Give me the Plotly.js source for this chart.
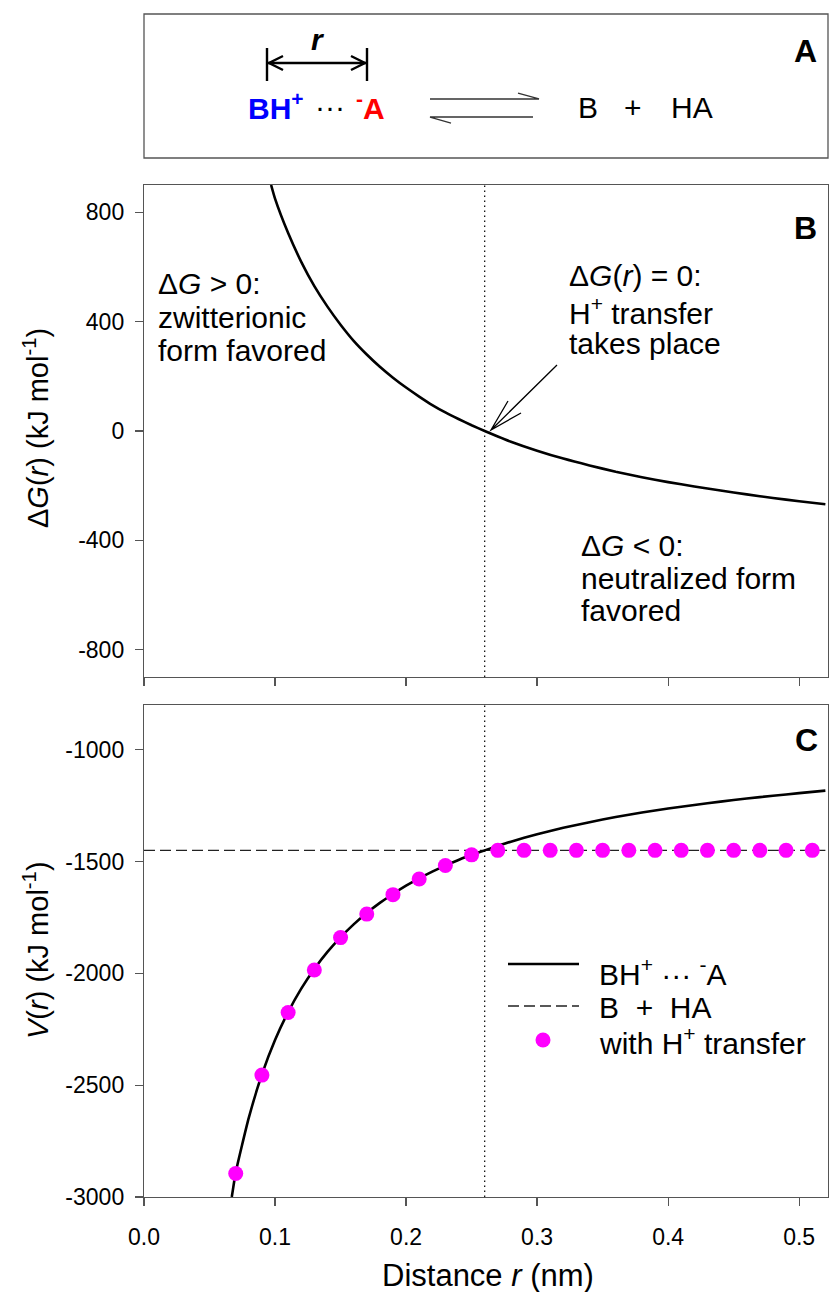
<!DOCTYPE html>
<html>
<head>
<meta charset="utf-8">
<script src="https://cdn.plot.ly/plotly-3.0.1.min.js"></script>
<style>html,body{margin:0;padding:0;background:#fff;}</style>
</head>
<body>
<div id="chart" style="width:829px;height:1292px;"></div>
<script>
// ---------- data ----------
// Panel B: free energy difference ΔG(r)
const rDG = [0.097, 0.10, 0.11, 0.12, 0.13, 0.14, 0.15, 0.16, 0.17, 0.18, 0.19, 0.20, 0.21, 0.22, 0.23, 0.24, 0.25, 0.26,
             0.27, 0.28, 0.30, 0.32, 0.34, 0.36, 0.38, 0.40, 0.42, 0.44, 0.46, 0.48, 0.50, 0.52];
const dG  = [900, 850, 724, 619, 530, 455, 389, 330, 280, 235, 195, 159, 126, 95, 68, 44, 21, 0,
             -20, -39, -72, -101, -126, -149, -169, -187, -203, -218, -232, -245, -257, -268];

// Panel C: potential of the ion pair BH+ ··· -A
const rV = [0.067, 0.07, 0.08, 0.09, 0.10, 0.11, 0.12, 0.13, 0.14, 0.15, 0.16, 0.17, 0.18, 0.19, 0.20,
            0.21, 0.22, 0.23, 0.24, 0.25, 0.26, 0.27, 0.28, 0.30, 0.32, 0.34, 0.36, 0.38, 0.40, 0.42, 0.44,
            0.46, 0.48, 0.50, 0.52];
const V  = [-3000, -2890, -2645, -2452, -2298, -2173, -2068, -1980, -1904, -1839, -1781, -1730, -1685, -1645, -1608,
            -1575, -1545, -1518, -1493, -1470, -1450, -1430, -1411, -1378, -1349, -1324, -1301, -1281, -1263, -1247, -1232,
            -1218, -1206, -1194, -1183];

// Panel C: neutral pair B + HA
const rNeutral = [0, 0.52];
const VNeutral = [-1450, -1450];

// Panel C: with H+ transfer (points)
const rHT = [0.07, 0.09, 0.11, 0.13, 0.15, 0.17, 0.19, 0.21, 0.23, 0.25, 0.27, 0.29, 0.31,
             0.33, 0.35, 0.37, 0.39, 0.41, 0.43, 0.45, 0.47, 0.49, 0.51];
const VHT = [-2895, -2455, -2175, -1985, -1840, -1735, -1648, -1578, -1518, -1470, -1450, -1450, -1450,
             -1450, -1450, -1450, -1450, -1450, -1450, -1450, -1450, -1450, -1450];

const rTransfer = 0.26;

const xTickVals = [0.0, 0.1, 0.2, 0.3, 0.4, 0.5];
const xTickText = ['0.0', '0.1', '0.2', '0.3', '0.4', '0.5'];
const yTicksB = [-800, -400, 0, 400, 800];
const yTickTextB = ['-800', '-400', '0', '400', '800'];
const yTicksC = [-3000, -2500, -2000, -1500, -1000];
const yTickTextC = ['-3000', '-2500', '-2000', '-1500', '-1000'];

// ---------- layout helpers (pixel -> paper) ----------
const FIG_W = 829, FIG_H = 1292;
const L = 144, R = 828, T = 14, B = 1197;
const px = x => (x - L) / (R - L);
const py = y => (B - y) / (B - T);
const FONT = 'Liberation Sans, Arial, Helvetica, sans-serif';
const AX = '#555';
const FS = 30;

function txt(text, x, y, opts) {
  opts = opts || {};
  return Object.assign({
    text: text, xref: 'paper', yref: 'paper', x: px(x), y: py(y),
    xanchor: 'left', yanchor: 'middle', showarrow: false,
    font: {family: FONT, size: FS, color: '#000'}
  }, opts);
}
function seg(x0, y0, x1, y1, w, color, dash) {
  return {type: 'line', xref: 'paper', yref: 'paper', x0: px(x0), y0: py(y0), x1: px(x1), y1: py(y1),
          line: {color: color || '#000', width: w || 1.3, dash: dash || 'solid'}};
}
function path(pts, w, color) {
  let d = '';
  pts.forEach((p, i) => {
    if (p === null) return;
    const prev = pts[i - 1];
    d += ((i === 0 || prev === null) ? 'M ' : 'L ') + px(p[0]).toFixed(5) + ' ' + py(p[1]).toFixed(5) + ' ';
  });
  return {type: 'path', xref: 'paper', yref: 'paper', path: d, line: {color: color || '#000', width: w || 1.3}};
}

// ---------- traces ----------
const traces = [
  {x: rDG, y: dG, xaxis: 'x2', yaxis: 'y2', mode: 'lines', showlegend: false,
   line: {color: '#000', width: 2.6, shape: 'spline', smoothing: 0.5}},
  {x: rNeutral, y: VNeutral, xaxis: 'x', yaxis: 'y', mode: 'lines', name: 'B + HA', showlegend: false,
   line: {color: '#222', width: 1.4, dash: '11px,5px'}},
  {x: rV, y: V, xaxis: 'x', yaxis: 'y', mode: 'lines', name: 'BH+ ··· -A', showlegend: false,
   line: {color: '#000', width: 2.6, shape: 'spline', smoothing: 0.5}},
  {x: rHT, y: VHT, xaxis: 'x', yaxis: 'y', mode: 'markers', name: 'with H+ transfer', showlegend: false,
   marker: {color: '#ff00ff', size: 15}}
];

const axCommon = {
  showline: true, mirror: true, linecolor: AX, linewidth: 1.2,
  ticks: 'outside', ticklen: 8, tickwidth: 1.2, tickcolor: AX,
  showgrid: false, zeroline: false,
  tickfont: {family: FONT, size: 23, color: '#000'}
};

const layout = {
  width: FIG_W, height: FIG_H,
  margin: {l: L, r: FIG_W - R, t: T, b: FIG_H - B},
  paper_bgcolor: '#fff', plot_bgcolor: '#fff',
  showlegend: false,
  xaxis: Object.assign({}, axCommon, {domain: [0, 1], anchor: 'y', range: [0, 0.522],
    tickvals: xTickVals, ticktext: xTickText, ticklabelstandoff: 11}),
  yaxis: Object.assign({}, axCommon, {domain: [0, py(705)], anchor: 'x', range: [-3000, -800],
    tickvals: yTicksC, ticktext: yTickTextC, ticklabelstandoff: 6}),
  xaxis2: Object.assign({}, axCommon, {domain: [0, 1], anchor: 'y2', range: [0, 0.522],
    tickvals: xTickVals, showticklabels: false}),
  yaxis2: Object.assign({}, axCommon, {domain: [py(677), py(185)], anchor: 'x2', range: [-900, 900],
    tickvals: yTicksB, ticktext: yTickTextB, ticklabelstandoff: 6}),
  shapes: [
    // panel A frame
    {type: 'rect', xref: 'paper', yref: 'paper', x0: 0, x1: 1, y0: py(158), y1: 1,
     line: {color: AX, width: 1.3}},
    // r distance marker
    seg(267, 48, 267, 81, 2.4),
    seg(367, 48, 367, 81, 2.4),
    seg(268, 63, 366, 63, 2.4),
    path([[283, 56], [269, 63], [283, 70]], 2.4),
    path([[351, 56], [365, 63], [351, 70]], 2.4),
    // equilibrium harpoons
    path([[430, 99], [539, 99], [518, 93]], 1.3, '#333'),
    path([[533, 117], [430, 117], [451, 123]], 1.3, '#333'),
    // transfer distance (dotted) in panels B and C
    {type: 'line', xref: 'x2', yref: 'y2 domain', x0: rTransfer, x1: rTransfer, y0: 0, y1: 1,
     line: {color: '#000', width: 1.2, dash: '1.5px,3.5px'}},
    {type: 'line', xref: 'x', yref: 'y domain', x0: rTransfer, x1: rTransfer, y0: 0, y1: 1,
     line: {color: '#000', width: 1.2, dash: '1.5px,3.5px'}},
    // arrow pointing at ΔG(r)=0
    path([[557, 365], [491, 430], null, [508, 401], [491, 430], [521, 413]], 1.3),
    // custom legend samples
    seg(508, 964, 579, 964, 2.6),
    seg(508, 1006, 579, 1006, 1.4, '#222', '11px,5px'),
    {type: 'circle', xref: 'paper', yref: 'paper', xsizemode: 'pixel', ysizemode: 'pixel',
     xanchor: px(543), yanchor: py(1040), x0: -7.5, x1: 7.5, y0: -7.5, y1: 7.5,
     fillcolor: '#ff00ff', line: {width: 0}}
  ],
  annotations: [
    // panel A
    txt('<b><i>r</i></b>', 318, 39, {xanchor: 'center'}),
    txt('<b>BH<sup>+</sup></b>', 246, 106, {font: {family: FONT, size: FS, color: '#0000ff'}}),
    txt('···', 313, 106),
    txt('<b><sup>-</sup>A</b>', 387, 106, {xanchor: 'right', font: {family: FONT, size: FS, color: '#ff0000'}}),
    txt('B', 588, 107, {xanchor: 'center'}),
    txt('+', 633, 107, {xanchor: 'center'}),
    txt('HA', 692, 107, {xanchor: 'center'}),
    txt('<b>A</b>', 805, 51, {xanchor: 'center', font: {family: FONT, size: 32, color: '#000'}}),
    // panel B
    txt('<b>B</b>', 805, 228, {xanchor: 'center', font: {family: FONT, size: 32, color: '#000'}}),
    txt('Δ<i>G</i> > 0:', 156, 283),
    txt('zwitterionic', 156, 317),
    txt('form favored', 156, 350),
    txt('Δ<i>G</i>(<i>r</i>) = 0:', 567, 275),
    txt('H<sup>+</sup> transfer', 567, 311),
    txt('takes place', 567, 343),
    txt('Δ<i>G</i> &lt; 0:', 579, 545),
    txt('neutralized form', 579, 578),
    txt('favored', 579, 610),
    // panel C
    txt('<b>C</b>', 806, 740, {xanchor: 'center', font: {family: FONT, size: 32, color: '#000'}}),
    txt('BH<sup>+</sup> ··· <sup>-</sup>A', 597, 972),
    txt('B\u00A0\u00A0+\u00A0\u00A0HA', 597, 1007),
    txt('with H<sup>+</sup> transfer', 597, 1041),
    // axis titles
    txt('Δ<i>G</i>(<i>r</i>) (kJ mol<sup>-1</sup>)', 36, 428, {xanchor: 'center', textangle: -90, font: {family: FONT, size: 29, color: '#000'}}),
    txt('<i>V</i>(<i>r</i>) (kJ mol<sup>-1</sup>)', 36, 950, {xanchor: 'center', textangle: -90, font: {family: FONT, size: 29, color: '#000'}}),
    txt('Distance <i>r</i> (nm)', 488, 1275, {xanchor: 'center', font: {family: FONT, size: 31, color: '#000'}})
  ]
};

Plotly.newPlot('chart', traces, layout, {staticPlot: true, displayModeBar: false});
</script>
</body>
</html>
